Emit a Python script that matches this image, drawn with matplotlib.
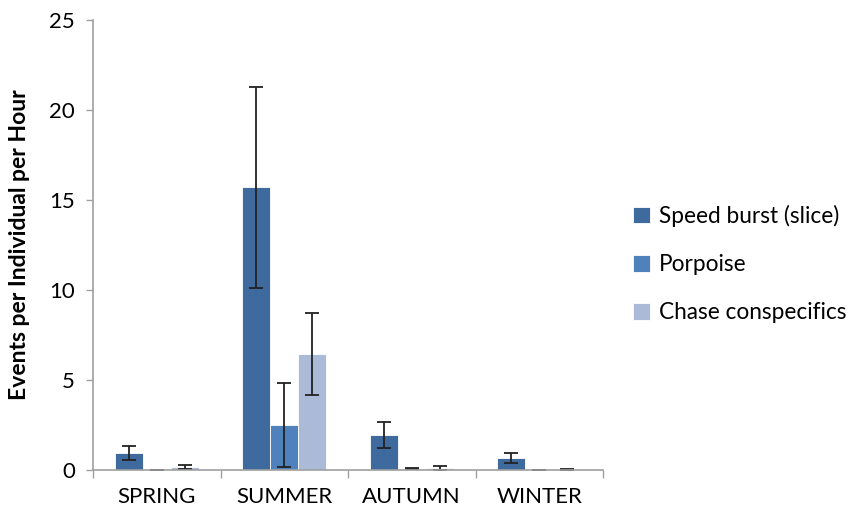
import matplotlib
matplotlib.use("Agg")
import matplotlib.pyplot as plt
import numpy as np

plt.rcParams['font.family'] = ['Lato', 'DejaVu Sans']

seasons = ["SPRING", "SUMMER", "AUTUMN", "WINTER"]
series_names = ["Speed burst (slice)", "Porpoise", "Chase conspecifics"]
speed_burst = [0.95, 15.7, 1.95, 0.65]
speed_burst_err = [0.4, 5.6, 0.72, 0.27]
porpoise = [0.02, 2.5, 0.08, 0.01]
porpoise_err = [0.0, 2.33, 0.03, 0.0]
chase = [0.17, 6.45, 0.12, 0.04]
chase_err = [0.1, 2.3, 0.1, 0.02]
yticks = [0, 5, 10, 15, 20, 25]

colors = ["#3E6A9E", "#4F81BD", "#AABAD7"]

fig = plt.figure(figsize=(8.55, 5.14), dpi=100)
ax = fig.add_axes([93/855, 44/514, 510/855, 450/514])

x = np.arange(len(seasons))
w = 0.22
data = [(speed_burst, speed_burst_err), (porpoise, porpoise_err), (chase, chase_err)]
for i, ((vals, errs), name, c) in enumerate(zip(data, series_names, colors)):
    ax.bar(x + (i - 1) * w, vals, w, color=c, edgecolor="white", linewidth=0.6,
           label=name, yerr=errs, error_kw=dict(ecolor="#222222", elinewidth=1.3,
                                                  capsize=5, capthick=1.3))

ax.set_xlim(-0.5, len(seasons) - 0.5)
ax.set_ylim(0, 25)
ax.set_yticks(yticks)
ax.set_yticklabels([str(v) for v in yticks], fontsize=16)
ax.set_xticks(x)
ax.set_xticklabels(seasons, fontsize=16)
ax.set_xticks(np.arange(len(seasons) + 1) - 0.5, minor=True)
ax.tick_params(axis='x', which='major', length=0, pad=12)
ax.tick_params(axis='x', which='minor', length=6, color="#A0A0A0", width=1)
ax.tick_params(axis='y', length=5, color="#A0A0A0", width=1, pad=8)
for s in ["top", "right"]:
    ax.spines[s].set_visible(False)
for s in ["left", "bottom"]:
    ax.spines[s].set_color("#A0A0A0")
    ax.spines[s].set_linewidth(1.2)

ax.set_ylabel("Events per Individual per Hour", fontsize=16.5, fontweight="bold", labelpad=14)

leg = fig.legend(loc="upper left", bbox_to_anchor=(633/855, 1 - 205/514), frameon=False,
                 fontsize=16.3, handlelength=0.75, handleheight=0.75, labelspacing=1.2,
                 handletextpad=0.4, borderaxespad=0, borderpad=0)

fig.savefig("out.png", dpi=100)
